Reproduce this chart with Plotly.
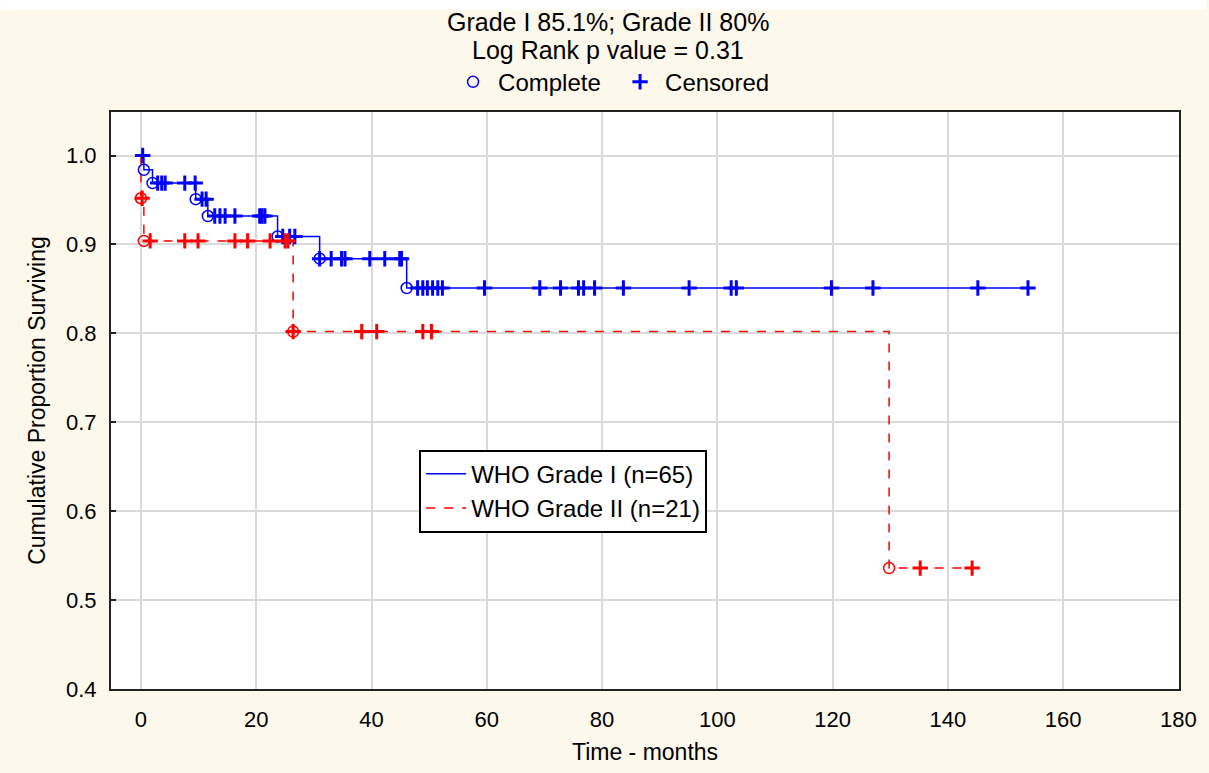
import plotly.graph_objects as go

# ---- data ----
# WHO Grade I (blue): step curve
g1_step_t = [0, 0.5, 2.0, 9.5, 11.6, 23.7, 31.0, 46.1, 153.9]
g1_step_s = [1.0, 0.984, 0.969, 0.951, 0.932, 0.909, 0.884, 0.851, 0.851]
g1_event_t = [0.5, 2.0, 9.5, 11.6, 23.7, 31.0, 46.1]
g1_event_s = [0.984, 0.969, 0.951, 0.932, 0.909, 0.884, 0.851]
g1_cens_t = [0.3,
             2.9, 3.6, 4.2, 7.6, 9.4,
             10.6, 11.3,
             12.8, 13.7, 14.6, 16.3, 20.6, 21.0, 21.5,
             24.6, 25.8, 26.7,
             31.0, 33.0, 34.8, 35.4, 39.7, 42.3, 44.9, 45.2,
             48.0, 48.9, 49.7, 50.6, 51.5, 52.3, 59.6, 69.2, 72.8, 75.9, 76.8,
             78.7, 83.7, 95.1, 102.4, 103.3, 119.8, 127.0, 145.2, 153.9]
g1_cens_s = [1.0,
             0.969, 0.969, 0.969, 0.969, 0.969,
             0.951, 0.951,
             0.932, 0.932, 0.932, 0.932, 0.932, 0.932, 0.932,
             0.909, 0.909, 0.909,
             0.884, 0.884, 0.884, 0.884, 0.884, 0.884, 0.884, 0.884,
             0.851, 0.851, 0.851, 0.851, 0.851, 0.851, 0.851, 0.851, 0.851, 0.851, 0.851,
             0.851, 0.851, 0.851, 0.851, 0.851, 0.851, 0.851, 0.851, 0.851]

# WHO Grade II (red): step curve
g2_step_t = [0, 0, 0.5, 26.4, 129.8, 144.2]
g2_step_s = [1.0, 0.952, 0.904, 0.802, 0.536, 0.536]
g2_event_t = [0.0, 0.5, 26.4, 129.8]
g2_event_s = [0.952, 0.904, 0.802, 0.536]
g2_cens_t = [0.2,
             1.6, 7.6, 9.9, 16.3, 18.5, 22.4, 25.0, 25.5,
             26.4, 38.3, 40.9, 48.9, 50.4,
             135.2, 144.2]
g2_cens_s = [0.952,
             0.904, 0.904, 0.904, 0.904, 0.904, 0.904, 0.904, 0.904,
             0.802, 0.802, 0.802, 0.802, 0.802,
             0.536, 0.536]

x_ticks = [0, 20, 40, 60, 80, 100, 120, 140, 160, 180]
y_ticks = [0.4, 0.5, 0.6, 0.7, 0.8, 0.9, 1.0]
title_lines = ["Grade I 85.1%; Grade II 80%", "Log Rank p value = 0.31"]

BLUE = "#0000ff"
RED = "#ff0000"
FONT = "Liberation Sans, Arial, sans-serif"

fig = go.Figure()

fig.add_trace(go.Scatter(x=g1_step_t, y=g1_step_s, mode="lines", line_shape="hv",
                         line=dict(color=BLUE, width=1.5), name="WHO Grade I (n=65)",
                         legend="legend2"))
fig.add_trace(go.Scatter(x=g2_step_t, y=g2_step_s, mode="lines", line_shape="hv",
                         line=dict(color=RED, width=1.5, dash="dash"), name="WHO Grade II (n=21)",
                         legend="legend2"))

fig.add_trace(go.Scatter(x=g1_event_t, y=g1_event_s, mode="markers", name="Complete",
                         marker=dict(symbol="circle-open", size=11, color=BLUE, line=dict(width=1.5)),
                         legend="legend"))
fig.add_trace(go.Scatter(x=g1_cens_t, y=g1_cens_s, mode="markers", name="Censored",
                         marker=dict(symbol="cross-thin-open", size=11, color=BLUE, line=dict(width=3, color=BLUE)),
                         legend="legend"))
fig.add_trace(go.Scatter(x=g2_event_t, y=g2_event_s, mode="markers", showlegend=False,
                         marker=dict(symbol="circle-open", size=11, color=RED, line=dict(width=1.5))))
fig.add_trace(go.Scatter(x=g2_cens_t, y=g2_cens_s, mode="markers", showlegend=False,
                         marker=dict(symbol="cross-thin-open", size=11, color=RED, line=dict(width=3, color=RED))))

W, H = 1209, 773
L, R, T, B = 111, 27, 112, 80
pw, ph = W - L - R, H - T - B


def px_x(p):
    return (p - L) / pw


def px_y(p):
    return (H - B - p) / ph


annotations = [
    dict(text=title_lines[0], xref="paper", yref="paper", x=px_x(609), y=px_y(21),
         xanchor="center", yanchor="middle", showarrow=False, font=dict(size=25)),
    dict(text=title_lines[1], xref="paper", yref="paper", x=px_x(609), y=px_y(50),
         xanchor="center", yanchor="middle", showarrow=False, font=dict(size=25)),
]

fig.update_layout(
    width=W, height=H,
    margin=dict(l=L, r=R, t=T, b=B),
    paper_bgcolor="#fdf8ec",
    plot_bgcolor="white",
    font=dict(family=FONT, size=22, color="black"),
    annotations=annotations,
    legend=dict(orientation="h", x=px_x(449), xanchor="left",
                y=px_y(82), yanchor="middle",
                bgcolor="rgba(0,0,0,0)", font=dict(size=24, family=FONT),
                itemwidth=40, entrywidth=112, entrywidthmode="pixels"),
    legend2=dict(x=px_x(420), xanchor="left", y=px_y(452), yanchor="top",
                 bgcolor="white", bordercolor="black", borderwidth=2,
                 font=dict(size=24, family=FONT), tracegroupgap=0, itemwidth=40),
    xaxis=dict(range=[-5.2, 180.1], tickvals=x_ticks, showgrid=True, gridcolor="#d9d9d9",
               gridwidth=2, zeroline=False, showline=True, linecolor="#222222", linewidth=2,
               mirror=True, ticks="", tickfont=dict(size=22), ticklabelstandoff=10,
               title=dict(text="Time - months", font=dict(size=23), standoff=12)),
    yaxis=dict(range=[0.4, 1.049], tickvals=y_ticks, tickformat=".1f", showgrid=True,
               gridcolor="#d9d9d9", gridwidth=2, zeroline=False, showline=True,
               linecolor="#222222", linewidth=2, mirror=True, ticks="inside", ticklen=5,
               tickcolor="#222222", tickwidth=1.5, tickfont=dict(size=22), ticklabelstandoff=8,
               title=dict(text="Cumulative Proportion Surviving", font=dict(size=23), standoff=14)),
    shapes=[dict(type="rect", xref="paper", yref="paper",
                 x0=-L / pw, x1=(W - L) / pw, y0=px_y(9), y1=px_y(-5),
                 fillcolor="white", line=dict(width=0), layer="below")],
)

fig.write_html("out.html", config={"displayModeBar": False},
               post_script="document.body.style.margin='0';document.body.style.overflow='hidden';")
